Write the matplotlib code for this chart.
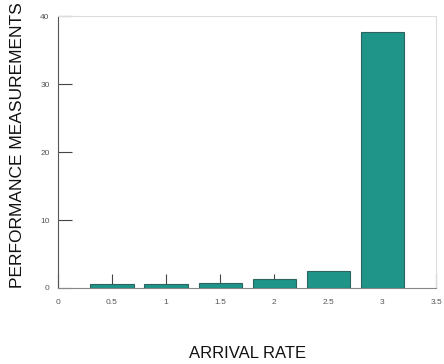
import matplotlib
matplotlib.use("Agg")
import matplotlib.pyplot as plt

plt.rcParams['font.family'] = ['Liberation Sans', 'DejaVu Sans']

# data
arrival_rate = [0.5, 1, 1.5, 2, 2.5, 3]
performance = [0.6, 0.65, 0.8, 1.25, 2.55, 37.7]
x_ticks = [0, 0.5, 1, 1.5, 2, 2.5, 3, 3.5]
x_tick_labels = ['0', '0.5', '1', '1.5', '2', '2.5', '3', '3.5']
y_ticks = [0, 10, 20, 30, 40]

fig = plt.figure(figsize=(4.44, 3.64), dpi=100)
ax = fig.add_axes([0.1306, 0.2088, 0.8524, 0.7472])

ax.bar(arrival_rate, performance, width=0.4, color='#1f9488',
       edgecolor='#2d6460', linewidth=0.8, zorder=3)

ax.set_xlim(0, 3.5)
ax.set_ylim(0, 40)
ax.set_xticks(x_ticks)
ax.set_xticklabels(x_tick_labels)
ax.set_yticks(y_ticks)

ax.tick_params(direction='in', length=10, width=0.8, colors='#444444',
               labelsize=6, labelcolor='#555555')
ax.tick_params(axis='x', pad=8)
ax.tick_params(axis='y', pad=6)

ax.spines['left'].set_color('#555555')
ax.spines['bottom'].set_color('#888888')
ax.spines['top'].set_color('#dddddd')
ax.spines['right'].set_color('#dddddd')

ax.set_xlabel('ARRIVAL RATE', fontsize=12, labelpad=29, color='#111111')
ax.set_ylabel('PERFORMANCE MEASUREMENTS', fontsize=12.5, color='#111111',
              va='center')
# y label sits a bit above the middle of the axis in the reference
ax.yaxis.set_label_coords(-0.106, 0.526)

fig.savefig('out.png', dpi=100)
